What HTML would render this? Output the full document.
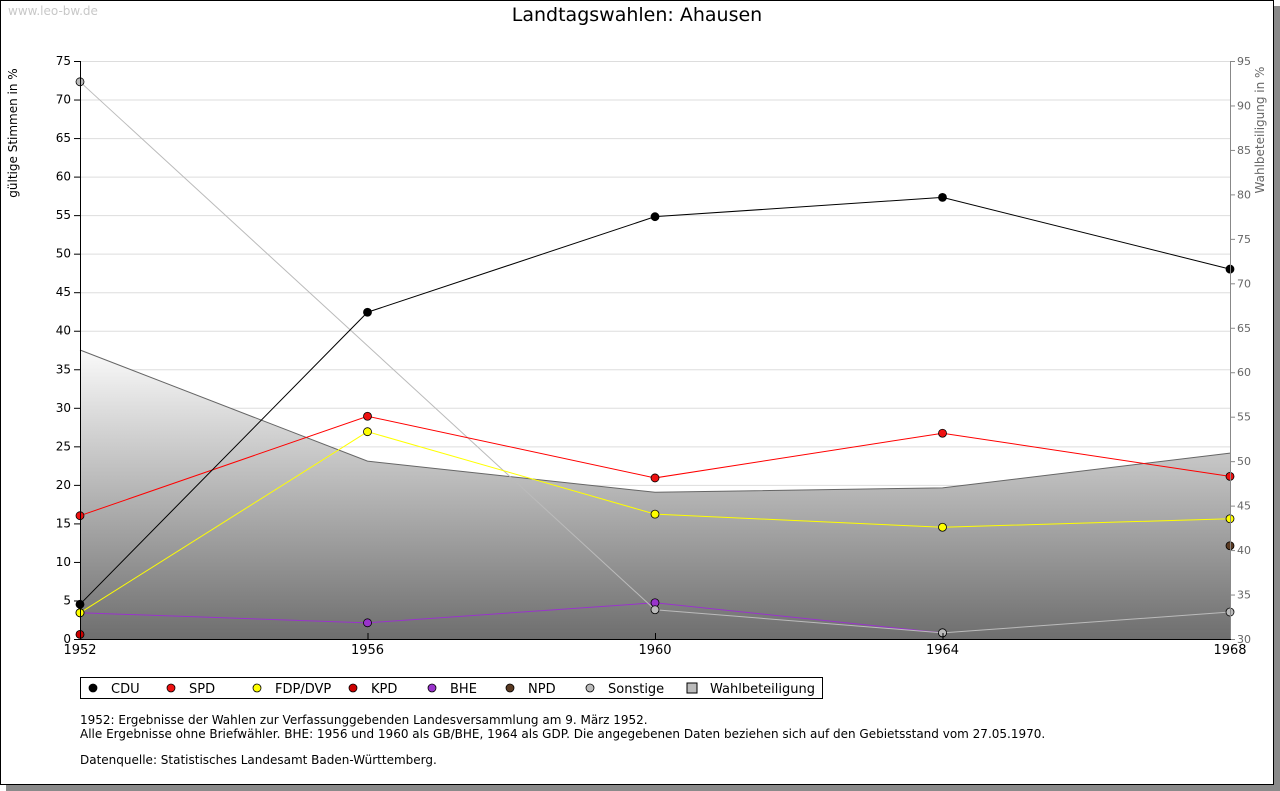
<!DOCTYPE html>
<html><head><meta charset="utf-8"><style>
body{margin:0;background:#fff;font-family:"DejaVu Sans",sans-serif;}
#wrap{position:relative;width:1280px;height:791px;overflow:hidden}
</style></head><body>
<div id="wrap">
<svg id="c" width="1280" height="791" xmlns="http://www.w3.org/2000/svg" font-family="DejaVu Sans, sans-serif">
<defs><linearGradient id="g" x1="0" y1="0" x2="0" y2="1"><stop offset="0" stop-color="#fafafa"/><stop offset="1" stop-color="#6e6e6e"/></linearGradient></defs>
<rect x="6" y="6" width="1274" height="785" fill="#8a8a8a"/>
<rect x="0.5" y="0.5" width="1273" height="784" fill="#fff" stroke="#000"/>
<text x="8" y="15" font-size="12" fill="#c8c8c8">www.leo-bw.de</text>
<text x="637" y="21" font-size="19" text-anchor="middle">Landtagswahlen: Ahausen</text>
<text transform="translate(17,133) rotate(-90)" font-size="12" text-anchor="middle">gültige Stimmen in %</text>
<text transform="translate(1264,130) rotate(-90)" font-size="12" text-anchor="middle" fill="#666">Wahlbeteiligung in %</text>
<g id="grid"></g><g id="area"></g><g id="lines"></g><g id="axes"></g>
<g>
<rect x="80.5" y="677.5" width="742" height="21" fill="#fff" stroke="#000"/>
<g id="leg"></g></g>
<g font-size="12">
<text x="80" y="724">1952: Ergebnisse der Wahlen zur Verfassunggebenden Landesversammlung am 9. März 1952.</text>
<text x="80" y="738">Alle Ergebnisse ohne Briefwähler. BHE: 1956 und 1960 als GB/BHE, 1964 als GDP. Die angegebenen Daten beziehen sich auf den Gebietsstand vom 27.05.1970.</text>
<text x="80" y="764">Datenquelle: Statistisches Landesamt Baden-Württemberg.</text>
</g>
</svg>
</div>
<script>
const years=[1952,1956,1960,1964,1968];
const cdu=[4.5,42.4,54.8,57.3,48.0];
const spd=[16.0,28.9,20.9,26.7,21.1];
const fdp=[3.4,26.9,16.2,14.5,15.6];
const kpd=[0.6,null,null,null,null];
const bhe=[3.4,2.1,4.7,0.8,null];
const npd=[null,null,null,null,12.1];
const sonstige=[72.3,null,3.8,0.8,3.5];
const turnout=[62.5,50.0,46.5,47.0,50.9];
const leftTicks=[0,5,10,15,20,25,30,35,40,45,50,55,60,65,70,75];
const rightTicks=[30,35,40,45,50,55,60,65,70,75,80,85,90,95];
const NS="http://www.w3.org/2000/svg";
const X=y=>80+(y-1952)/(1968-1952)*1150;
const YL=v=>639-v/75*578;
const YR=v=>639-(v-30)/65*578;
function el(t,a,p){const e=document.createElementNS(NS,t);for(const k in a)e.setAttribute(k,a[k]);document.getElementById(p).appendChild(e);return e;}
leftTicks.forEach(v=>{
 if(v>0){const l=el('line',{x1:80,x2:1230,y1:YL(v)+.5,y2:YL(v)+.5,stroke:'#ddd'},'grid');
 
 }
 el('line',{x1:74,x2:80,y1:YL(v)+.5,y2:YL(v)+.5,stroke:'#000'},'axes');
 const t=el('text',{x:71,y:YL(v)+4,'font-size':12,'text-anchor':'end'},'axes');t.textContent=v;
 
 
});
rightTicks.forEach(v=>{
 el('line',{x1:1230,x2:1235,y1:YR(v)+.5,y2:YR(v)+.5,stroke:'#888'},'axes');
 const t=el('text',{x:1237,y:YR(v)+4,'font-size':11,fill:'#666'},'axes');t.textContent=v;
 
 
});
years.forEach(y=>{
 el('line',{x1:X(y)+.5,x2:X(y)+.5,y1:633,y2:639,stroke:'#000'},'axes');
 const t=el('text',{x:X(y),y:654,'font-size':13,'text-anchor':'middle'},'axes');t.textContent=y;
 
 
});
let d='M'+X(years[0])+','+639;years.forEach((y,i)=>d+=' L'+X(y)+','+YR(turnout[i]));d+=' L'+X(1968)+',639 Z';
const a=el('path',{d:d,fill:'url(#g)'},'area');


let d2='';years.forEach((y,i)=>d2+=(i?' L':'M')+X(y)+','+YR(turnout[i]));
el('path',{d:d2,fill:'none',stroke:'#666'},'area');
el('line',{x1:80.5,x2:80.5,y1:61,y2:639,stroke:'#000'},'axes');
el('line',{x1:1230.5,x2:1230.5,y1:61,y2:639,stroke:'#888'},'axes');
el('line',{x1:80,x2:1231,y1:639.5,y2:639.5,stroke:'#000'},'axes');
const series=[['bhe',bhe,'#9933cc','#9933cc'],['sonstige',sonstige,'#bbb','#bbb'],['npd',npd,'#5a3a22','#5a3a22'],['kpd',kpd,'#cc0000','#cc0000'],['fdp',fdp,'#ffff00','#ffff00'],['spd',spd,'#ff0000','#ee1111'],['cdu',cdu,'#000','#000']];
series.forEach(([n,vals,lc,mc])=>{
 let p='',first=true;
 vals.forEach((v,i)=>{if(v==null)return;p+=(first?'M':' L')+X(years[i])+','+YL(v);first=false;});
 const l=el('path',{d:p,fill:'none',stroke:lc,'stroke-width':1},'lines');
 
 
 vals.forEach((v,i)=>{if(v==null)return;
  const m=el('circle',{cx:X(years[i]),cy:YL(v),r:4,fill:mc,stroke:'#000','stroke-width':.8},'lines');
  
  
 });
});
const legNames=['CDU','SPD','FDP/DVP','KPD','BHE','NPD','Sonstige','Wahlbeteiligung'];
const legCols=['#000','#ee1111','#ffff00','#cc0000','#9933cc','#5a3a22','#bbb',null];
const legX=[93,171,257,353,432,510,590,692];
legNames.forEach((n,i)=>{
 if(legCols[i]){const m=el('circle',{cx:legX[i],cy:688,r:4,fill:legCols[i],stroke:'#000','stroke-width':.8},'leg');
  
  }
 else{const r=el('rect',{x:legX[i]-5,y:683,width:10,height:10,fill:'#bbb',stroke:'#000'},'leg');
  
  }
 const t=el('text',{x:legX[i]+18,y:693,'font-size':13},'leg');t.textContent=n;
 
 
});
</script>
</body></html>
